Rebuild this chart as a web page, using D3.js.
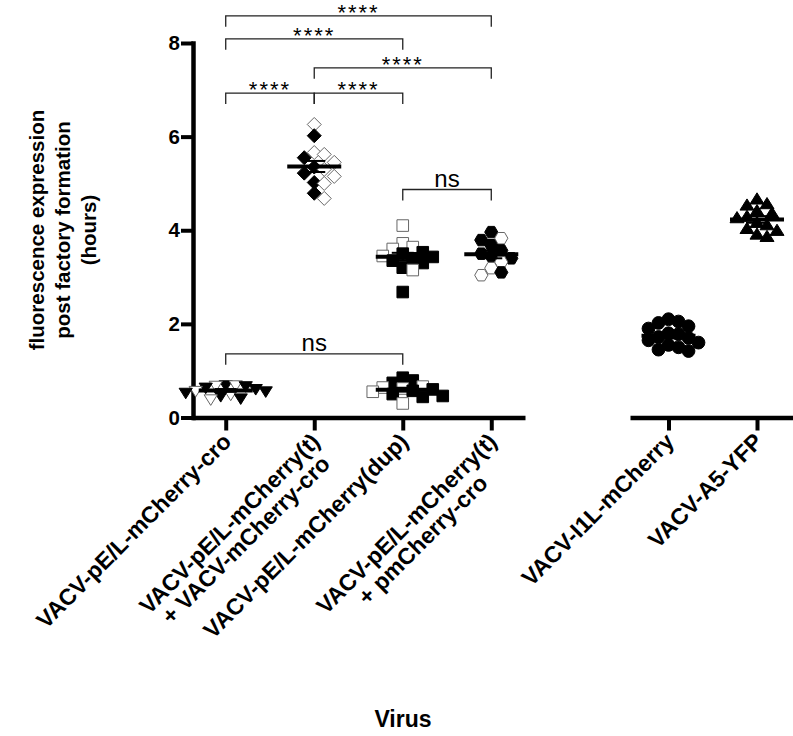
<!DOCTYPE html>
<html><head><meta charset="utf-8">
<script src="https://cdn.jsdelivr.net/npm/d3@7"></script>
<style>
body{margin:0;background:#fff}
svg{display:block;background:#fff}
text{font-family:"Liberation Sans",Arial,Helvetica,sans-serif}
</style>
</head><body>
<svg id="c" width="793" height="736"></svg>
<script>
// ---------- data ----------
const categoriesLeft = [
  "VACV-pE/L-mCherry-cro",
  "VACV-pE/L-mCherry(t)\n+ VACV-mCherry-cro",
  "VACV-pE/L-mCherry(dup)",
  "VACV-pE/L-mCherry(t)\n+ pmCherry-cro"
];
const categoriesRight = ["VACV-I1L-mCherry", "VACV-A5-YFP"];
const yTicks = [0, 2, 4, 6, 8];
const yTitle = ["fluorescence expression", "post factory formation", "(hours)"];
const xTitle = "Virus";

// series values (hours); filled and open markers per group
const croFilled   = [0.70, 0.68, 0.65, 0.62, 0.57, 0.54, 0.47, 0.42];
const croOpen     = [0.70, 0.69, 0.58, 0.50, 0.40];
const tMixFilled  = [6.02, 5.55, 5.35, 5.22, 5.02, 4.79];
const tMixOpen    = [6.26, 5.66, 5.62, 5.45, 5.30, 5.15, 5.00, 4.68];
const dupHiFilled = [3.53, 3.50, 3.43, 3.40, 3.35, 3.30, 3.20, 2.68];
const dupHiOpen   = [4.10, 3.72, 3.64, 3.60, 3.45, 3.15];
const dupLoFilled = [0.85, 0.79, 0.74, 0.60, 0.57, 0.50, 0.46, 0.44];
const dupLoOpen   = [0.66, 0.64, 0.62, 0.55, 0.30];
const tPmFilled   = [3.96, 3.79, 3.68, 3.57, 3.50, 3.45, 3.40, 3.10];
const tPmOpen     = [3.83, 3.32, 3.19, 3.04];
const i1lFilled   = [2.10, 2.05, 2.02, 1.95, 1.90, 1.80, 1.78, 1.72, 1.70, 1.65, 1.60, 1.55, 1.50, 1.45, 1.42];
const a5Filled    = [4.65, 4.55, 4.52, 4.40, 4.35, 4.28, 4.25, 4.15, 4.10, 4.02, 3.98, 3.90, 3.85];

// significance brackets: [from category index, to category index], level (hours), label
const bracketPairs  = [[0,3],[0,2],[1,3],[0,1],[1,2],[2,3],[0,2]];
const bracketLevels = [8.58, 8.09, 7.47, 6.93, 6.93, 4.87, 1.36];
const bracketLabels = ["****","****","****","****","****","ns","ns"];

// ---------- build ----------
const allCats = categoriesLeft.concat(categoriesRight);
const series = [
  {cat: allCats[0], shape: "triDown", filled: croFilled, open: croOpen},
  {cat: allCats[1], shape: "diamond", filled: tMixFilled, open: tMixOpen},
  {cat: allCats[2], shape: "square", filled: dupHiFilled, open: dupHiOpen},
  {cat: allCats[2], shape: "square", filled: dupLoFilled, open: dupLoOpen},
  {cat: allCats[3], shape: "hexagon", filled: tPmFilled, open: tPmOpen},
  {cat: allCats[4], shape: "circle", filled: i1lFilled, open: []},
  {cat: allCats[5], shape: "triUp", filled: a5Filled, open: []}
];

const svg = d3.select("#c");
const y = d3.scaleLinear().domain([0, 8]).range([417.5, 43]);
const xL = d3.scalePoint().domain(categoriesLeft).range([192, 525]).padding(0.381);
const xR = d3.scalePoint().domain(categoriesRight).range([630, 795.5]).padding(0.435);
const xPos = c => categoriesLeft.includes(c) ? xL(c) : xR(c);

// ---------- axes ----------
const gy = svg.append("g").attr("transform", "translate(193,0)")
  .call(d3.axisLeft(y).tickValues(yTicks).tickSize(12).tickSizeOuter(0).tickPadding(1).tickFormat(d3.format("d")));
gy.select(".domain").attr("stroke", "#000").attr("stroke-width", 4.5).attr("stroke-linecap", "square");
gy.selectAll(".tick line").attr("stroke", "#000").attr("stroke-width", 4);
gy.selectAll(".tick text").attr("font-size", 20.5).attr("font-weight", "bold").attr("fill", "#000")
  .style("font-family", '"Liberation Sans",Arial,sans-serif');

function styleX(g) {
  g.select(".domain").attr("stroke", "#000").attr("stroke-width", 4.5);
  g.selectAll(".tick line").attr("stroke", "#000").attr("stroke-width", 4);
  g.selectAll(".tick text").remove();
}
svg.append("g").attr("transform", `translate(0,${y(0)})`)
  .call(d3.axisBottom(xL).tickSize(13).tickSizeOuter(0)).call(styleX);
svg.append("g").attr("transform", `translate(0,${y(0)})`)
  .call(d3.axisBottom(xR).tickSize(13).tickSizeOuter(0)).call(styleX);

// rotated category labels: first line ends at the anchor, further lines centred on it
const fsLab = 23, lh = 23;
allCats.forEach(c => {
  const lines = c.split("\n");
  const g = svg.append("g")
    .attr("transform", `translate(${xPos(c) + 7},${443}) rotate(-45)`);
  const ts = lines.map((ln, i) => g.append("text")
    .attr("font-size", fsLab).attr("font-weight", "bold").attr("fill", "#000")
    .attr("y", i * lh)
    .text(ln));
  const w = ts[0].node().getComputedTextLength();
  ts.forEach(t => t.attr("text-anchor", "middle").attr("x", -w / 2));
});

// axis titles
const yt = svg.append("text").attr("transform", "translate(44,230) rotate(-90)")
  .attr("text-anchor", "middle").attr("font-size", 20.5).attr("font-weight", "bold").attr("fill", "#000");
yTitle.forEach((t, i) => yt.append("tspan").attr("x", 0).attr("dy", i === 0 ? 0 : 26).text(t));
svg.append("text").attr("x", 403).attr("y", 727).attr("text-anchor", "middle")
  .attr("font-size", 23).attr("font-weight", "bold").attr("fill", "#000").text(xTitle);

// ---------- markers ----------
function markerPath(shape) {
  switch (shape) {
    case "square": { const r = 5.8; return `M${-r},${-r}H${r}V${r}H${-r}Z`; }
    case "diamond": { const r = 7; return `M0,${-r}L${r},0L0,${r}L${-r},0Z`; }
    case "triDown": { const r = 6.6; return `M${-r},${-r*0.6}L${r},${-r*0.6}L0,${r*1.0}Z`; }
    case "triUp": { const r = 7; return `M${-r},${r*0.6}L${r},${r*0.6}L0,${-r*1.0}Z`; }
    case "circle": { const r = 6.4; return `M${r},0A${r},${r} 0 1,1 ${-r},0A${r},${r} 0 1,1 ${r},0Z`; }
    case "hexagon": {
      const r = 6.6; let p = "";
      for (let k = 0; k < 6; k++) { const a = Math.PI / 3 * k; p += (k ? "L" : "M") + (r * Math.cos(a)).toFixed(2) + "," + (r * Math.sin(a)).toFixed(2); }
      return p + "Z";
    }
  }
}

function swarm(points, cx, minD, step) {
  const sorted = points.slice().sort((a, b) => b.v - a.v);
  const placed = [];
  sorted.forEach(p => {
    const py = y(p.v);
    for (let k = 0; k < 40; k++) {
      const m = k === 0 ? 0 : (k % 2 ? 1 : -1) * Math.ceil(k / 2);
      const px = cx + m * step;
      if (placed.every(q => Math.hypot(q.x - px, q.y - py) >= minD)) {
        placed.push({x: px, y: py, filled: p.filled, v: p.v});
        break;
      }
    }
  });
  return placed;
}

const plot = svg.append("g");
series.forEach(s => {
  const pts = s.filled.map(v => ({v, filled: true})).concat(s.open.map(v => ({v, filled: false})));
  const placed = swarm(pts, xPos(s.cat), 10, 5);
  const path = markerPath(s.shape);
  plot.append("g").selectAll("path").data(placed).join("path")
    .attr("d", path)
    .attr("transform", d => `translate(${d.x},${d.y})`)
    .attr("fill", d => d.filled ? "#000" : "#fff")
    .attr("stroke", d => d.filled ? "#000" : "#666")
    .attr("stroke-width", 1);
  // mean and SEM
  const vals = pts.map(p => p.v);
  const mean = d3.mean(vals);
  const sem = d3.deviation(vals) / Math.sqrt(vals.length);
  const cx = xPos(s.cat);
  const eg = plot.append("g").attr("stroke", "#000");
  eg.append("line").attr("x1", cx).attr("x2", cx).attr("y1", y(mean + sem)).attr("y2", y(mean - sem)).attr("stroke-width", 2);
  [mean + sem, mean - sem].forEach(v => eg.append("line").attr("x1", cx - 11).attr("x2", cx + 11)
    .attr("y1", y(v)).attr("y2", y(v)).attr("stroke-width", 2));
  eg.append("line").attr("x1", cx - 27).attr("x2", cx + 27).attr("y1", y(mean)).attr("y2", y(mean)).attr("stroke-width", 4);
});

// ---------- significance brackets ----------
const bg = svg.append("g");
bracketPairs.forEach((pr, i) => {
  const x1 = xPos(allCats[pr[0]]), x2 = xPos(allCats[pr[1]]);
  const yy = y(bracketLevels[i]);
  bg.append("path").attr("d", `M${x1},${yy + 11}V${yy}H${x2}V${yy + 11}`)
    .attr("fill", "none").attr("stroke", "#222").attr("stroke-width", 1.3);
  const isNs = bracketLabels[i] === "ns";
  bg.append("text").attr("x", (x1 + x2) / 2).attr("y", isNs ? yy - 3 : yy + 4)
    .attr("text-anchor", "middle").attr("font-size", isNs ? 24 : 22)
    .attr("letter-spacing", isNs ? 0 : 2).attr("fill", "#000")
    .text(bracketLabels[i]);
});
</script>
</body></html>
